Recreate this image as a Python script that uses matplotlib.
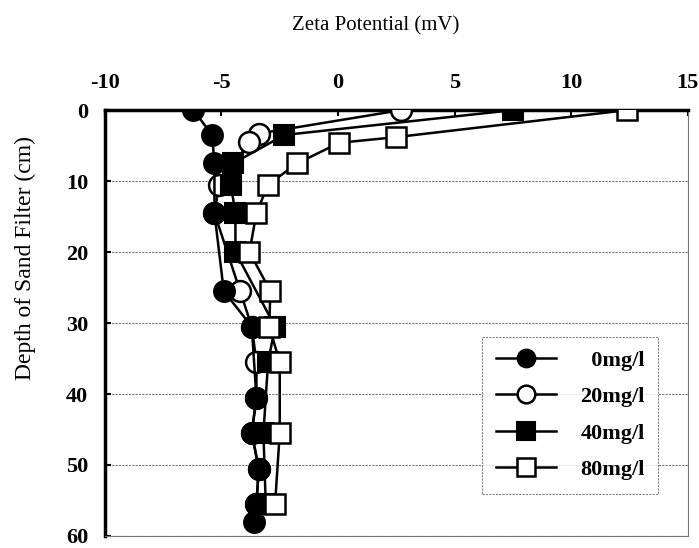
import numpy as np
import matplotlib
matplotlib.use('Agg')
import matplotlib.pyplot as plt

plt.rcParams['font.family'] = ['Liberation Serif', 'DejaVu Serif']
plt.rcParams['axes.unicode_minus'] = False

# depth (cm) and zeta potential (mV) for each alum dose
depth_0 = [0, 3.5, 7.5, 14.5, 25.5, 30.5, 40.5, 45.5, 50.5, 55.5, 58]
zeta_0 = [-6.2, -5.4, -5.3, -5.3, -4.9, -3.7, -3.5, -3.7, -3.4, -3.5, -3.6]

depth_20 = [0, 3.3, 4.5, 10.5, 14.5, 25.5, 30.5, 35.5, 40.5, 45.5, 50.5, 55.5]
zeta_20 = [2.7, -3.4, -3.8, -5.1, -5.3, -4.2, -3.7, -3.5, -3.5, -3.7, -3.4, -3.5]

depth_40 = [0, 3.5, 7.5, 10.5, 14.5, 20, 30.5, 35.5, 45.5, 55.5]
zeta_40 = [7.5, -2.3, -4.5, -4.6, -4.4, -4.4, -2.7, -3.0, -3.2, -3.1]

depth_80 = [0, 3.8, 4.6, 7.5, 10.5, 14.5, 20, 25.5, 30.5, 35.5, 45.5, 55.5]
zeta_80 = [12.4, 2.5, 0.05, -1.75, -3.0, -3.5, -3.8, -2.9, -2.95, -2.5, -2.5, -2.7]

labels = ['  0mg/l', '20mg/l', '40mg/l', '80mg/l']
xticks = [-10, -5, 0, 5, 10, 15]
yticks = [0, 10, 20, 30, 40, 50, 60]

fig = plt.figure(figsize=(6.99, 5.48), dpi=100)
ax = fig.add_axes([0.150, 0.022, 0.834, 0.777])

ax.set_xlim(-10, 15)
ax.set_ylim(60, 0)

# gridlines
for y in yticks[1:]:
    ax.axhline(y, color='#777777', lw=0.8, ls=(0, (2, 1)), zorder=0)

ms_c = 15
ms_s = 14.5
l0, = ax.plot(zeta_0, depth_0, color='black', lw=1.8, marker='o', ms=ms_c,
              mfc='black', mec='black', mew=1.5, zorder=4)
l20, = ax.plot(zeta_20, depth_20, color='black', lw=1.8, marker='o', ms=ms_c,
               mfc='white', mec='black', mew=1.8, zorder=3)
l40, = ax.plot(zeta_40, depth_40, color='black', lw=1.8, marker='s', ms=ms_s,
               mfc='black', mec='black', mew=1.5, zorder=5)
l80, = ax.plot(zeta_80, depth_80, color='black', lw=1.8, marker='s', ms=ms_s,
               mfc='white', mec='black', mew=1.8, zorder=6)

ax.xaxis.tick_top()
ax.set_xticks(xticks)
ax.set_yticks(yticks)
ax.tick_params(axis='both', direction='in', length=4, width=1.5, labelsize=16, pad=12)
for t in ax.get_xticklabels() + ax.get_yticklabels():
    t.set_fontweight('bold')

ax.spines['top'].set_linewidth(2.5)
ax.spines['left'].set_linewidth(2.5)
ax.spines['bottom'].set_color('#777777')
ax.spines['bottom'].set_linewidth(0.8)
ax.spines['bottom'].set_linestyle((0, (2, 1)))
ax.spines['right'].set_color('#777777')
ax.spines['right'].set_linewidth(0.8)
ax.spines['right'].set_linestyle((0, (2, 1)))

fig.text(0.537, 0.953, 'Zeta Potential (mV)', ha='center', va='center', fontsize=15)
fig.text(0.036, 0.53, 'Depth of Sand Filter (cm)', ha='center', va='center',
         rotation=90, fontsize=17)

leg = ax.legend([l0, l20, l40, l80], labels, loc='upper right',
                bbox_to_anchor=(0.949, 0.468), markerscale=0.85,
                handlelength=2.7, labelspacing=0.72, borderpad=0.6,
                handletextpad=1.1, borderaxespad=0, fancybox=False,
                prop={'weight': 'bold', 'size': 16})
leg.get_frame().set_edgecolor('#666666')
leg.get_frame().set_linestyle((0, (2, 1)))
leg.get_frame().set_linewidth(0.8)
leg.set_zorder(10)

fig.savefig('out.png', dpi=100)
